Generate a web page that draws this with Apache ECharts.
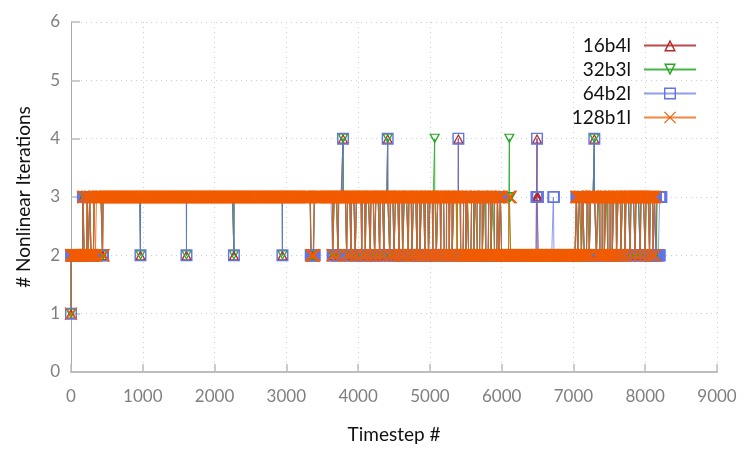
<!DOCTYPE html>
<html>
<head>
<meta charset="utf-8">
<script src="https://cdn.jsdelivr.net/npm/echarts@6/dist/echarts.min.js"></script>
<style>
html,body{margin:0;padding:0;background:#fff;}
#chart{width:747px;height:449px;}
</style>
</head>
<body>
<div id="chart"></div>
<script>
// ---- data ----
const seriesNames = ['16b4l', '32b3l', '64b2l', '128b1l'];
const xTicks = [0, 1000, 2000, 3000, 4000, 5000, 6000, 7000, 8000, 9000];
const yTicks = [0, 1, 2, 3, 4, 5, 6];
// baseline number of nonlinear iterations (value between the listed runs)
const baseLevel = 3;
// last timestep of each series
const lastStep = [8170, 8190, 8225, 8140];
// runs [firstTimestep, lastTimestep, iterations] where the series differs from baseLevel
const runs16b4l = [[0,0,1],[1,160,2],[185,225,2],[240,260,2],[280,320,2],[440,445,2],[968,968,2],[1609,1609,2],[2270,2270,2],[2946,2946,2],[3345,3390,2],
  [3645,3665,2],[3720,3730,2],[3790,3790,4],[3840,3850,2],[3900,3910,2],[3960,3975,2],[4050,4060,2],[4100,4110,2],[4170,4180,2],[4230,4245,2],
  [4300,4310,2],[4360,4365,2],[4412,4412,4],[4440,4450,2],[4500,4520,2],[4570,4580,2],[4620,4640,2],[4700,4705,2],[4750,4770,2],[4820,4830,2],
  [4860,4880,2],[4930,4940,2],[4980,5000,2],[5040,5045,2],[5090,5110,2],[5150,5160,2],[5200,5230,2],[5270,5280,2],[5310,5330,2],[5397,5397,4],
  [5430,5470,2],[5500,5520,2],[5540,5580,2],[5610,5630,2],[5660,5700,2],[5730,5750,2],[5780,5820,2],[5850,5870,2],[5900,5940,2],[5960,5980,2],
  [6000,6484,2],[6493,6493,4],[6510,7040,2],[7060,7080,2],[7110,7130,2],[7150,7190,2],[7220,7240,2],[7291,7291,4],[7320,7340,2],[7370,7400,2],
  [7430,7450,2],[7480,7510,2],[7540,7560,2],[7600,7620,2],[7660,7680,2],[7720,7730,2],[7790,7800,2],[7860,7870,2],[7930,7940,2],[8000,8010,2],
  [8060,8070,2],[8110,8130,2],[8150,8165,2]];
const runs32b3l = [[0,0,1],[1,165,2],[185,225,2],[240,260,2],[280,320,2],[440,445,2],[968,968,2],[1609,1609,2],[2270,2270,2],[2946,2946,2],[3345,3390,2],
  [3645,3670,2],[3720,3725,2],[3790,3790,4],[3840,3855,2],[3900,3905,2],[3960,3980,2],[4050,4055,2],[4100,4115,2],[4170,4175,2],[4230,4250,2],
  [4300,4305,2],[4360,4370,2],[4412,4412,4],[4440,4455,2],[4500,4520,2],[4570,4575,2],[4620,4645,2],[4700,4710,2],[4750,4770,2],[4820,4825,2],
  [4860,4885,2],[4930,4935,2],[4980,5005,2],[5040,5045,2],[5067,5067,4],[5090,5110,2],[5150,5155,2],[5200,5235,2],[5270,5275,2],[5310,5335,2],
  [5380,5385,2],[5430,5470,2],[5500,5525,2],[5540,5580,2],[5610,5635,2],[5660,5700,2],[5730,5755,2],[5780,5820,2],[5850,5875,2],[5900,5940,2],
  [5960,5985,2],[6000,6100,2],[6107,6107,4],[6126,7040,2],[7060,7085,2],[7110,7130,2],[7150,7195,2],[7220,7240,2],[7291,7291,4],[7320,7345,2],
  [7370,7400,2],[7430,7455,2],[7480,7510,2],[7540,7565,2],[7600,7620,2],[7660,7685,2],[7720,7735,2],[7790,7805,2],[7860,7875,2],[7930,7945,2],
  [8000,8015,2],[8060,8075,2],[8110,8130,2],[8160,8190,2]];
const runs64b2l = [[0,0,1],[1,165,2],[185,225,2],[240,260,2],[280,320,2],[435,445,2],[968,968,2],[1609,1609,2],[2270,2270,2],[2946,2946,2],[3340,3395,2],
  [3645,3665,2],[3720,3730,2],[3790,3790,4],[3840,3850,2],[3900,3910,2],[3960,3975,2],[4050,4060,2],[4100,4110,2],[4170,4180,2],[4230,4245,2],
  [4300,4310,2],[4360,4365,2],[4412,4412,4],[4440,4450,2],[4500,4520,2],[4570,4580,2],[4620,4640,2],[4700,4705,2],[4750,4770,2],[4820,4830,2],
  [4860,4880,2],[4930,4940,2],[4980,5000,2],[5040,5045,2],[5090,5110,2],[5150,5160,2],[5200,5230,2],[5270,5280,2],[5310,5330,2],[5397,5397,4],
  [5430,5470,2],[5500,5520,2],[5540,5580,2],[5610,5630,2],[5660,5700,2],[5730,5750,2],[5780,5820,2],[5850,5870,2],[5900,5940,2],[5960,5980,2],
  [6000,6484,2],[6493,6493,4],[6505,6719,2],[6729,7040,2],[7060,7080,2],[7110,7130,2],[7150,7190,2],[7220,7240,2],[7291,7291,4],[7320,7340,2],
  [7370,7400,2],[7430,7450,2],[7480,7510,2],[7540,7560,2],[7600,7620,2],[7660,7680,2],[7720,7730,2],[7790,7800,2],[7860,7870,2],[7930,7940,2],
  [8000,8010,2],[8060,8070,2],[8110,8130,2],[8150,8200,2]];
const runs128b1l = [[0,0,1],[1,170,2],[185,225,2],[240,260,2],[280,320,2],[340,355,2],[440,452,2],[3350,3385,2],
  [3645,3660,2],[3720,3725,2],[3840,3850,2],[3900,3905,2],[3960,3975,2],[4050,4055,2],[4100,4110,2],[4170,4175,2],[4230,4245,2],[4300,4305,2],
  [4360,4365,2],[4440,4450,2],[4500,4520,2],[4570,4575,2],[4620,4640,2],[4700,4705,2],[4750,4770,2],[4820,4825,2],[4860,4880,2],[4930,4935,2],
  [4980,5000,2],[5040,5045,2],[5090,5110,2],[5150,5155,2],[5200,5230,2],[5270,5275,2],[5310,5330,2],[5380,5385,2],[5430,5470,2],[5500,5520,2],
  [5540,5580,2],[5610,5630,2],[5660,5700,2],[5730,5750,2],[5780,5820,2],[5850,5870,2],[5900,5940,2],[5960,5980,2],[6000,6100,2],[6126,7040,2],
  [7060,7080,2],[7110,7130,2],[7150,7190,2],[7220,7240,2],[7320,7340,2],[7370,7400,2],[7430,7450,2],[7480,7510,2],[7540,7560,2],[7600,7620,2],
  [7660,7680,2],[7720,7725,2],[7790,7795,2],[7860,7865,2],[7930,7935,2],[8000,8005,2],[8060,8065,2],[8110,8130,2]];
const allRuns = [runs16b4l, runs32b3l, runs64b2l, runs128b1l];

// ---- build points from the runs (one point per MARK_STEP timesteps inside a run) ----
const MARK_STEP = 8;
function decodeRuns(runs, last) {
  const pts = [];
  const sorted = runs.slice().sort((a, b) => a[0] - b[0]);
  function emit(a, b, v) {
    if (b < a) return;
    pts.push([a, v]);
    for (let x = a + MARK_STEP; x < b; x += MARK_STEP) pts.push([x, v]);
    if (b > a) pts.push([b, v]);
  }
  let t = 0;
  for (const r of sorted) {
    const a = r[0], b = r[1], v = r[2];
    if (a > last) break;
    if (a > t) emit(t, a - 1, baseLevel);
    emit(a, Math.min(b, last), v);
    t = b + 1;
  }
  if (t <= last) emit(t, last, baseLevel);
  return pts;
}

// ---- outline marker shapes ----
const SYM_UP = 'path://M5,0 L10,10 L0,10 Z M5,2.68 L1.94,8.8 L8.06,8.8 Z';
const SYM_DOWN = 'path://M0,0 L10,0 L5,10 Z M1.94,1.2 L5,7.32 L8.06,1.2 Z';
const SYM_SQ = 'path://M0,0 L10,0 L10,10 L0,10 Z M1.2,1.2 L1.2,8.8 L8.8,8.8 L8.8,1.2 Z';
const SYM_X = 'path://M0,0.64 L0.64,0 L5,4.36 L9.36,0 L10,0.64 L5.64,5 L10,9.36 L9.36,10 L5,5.64 L0.64,10 L0,9.36 L4.36,5 Z';

const styles = [
  {color: '#b5282b', sym: SYM_UP, size: [11, 10], lineOp: 0.85},
  {color: '#27a827', sym: SYM_DOWN, size: [11, 10], lineOp: 0.85},
  {color: '#6375e4', sym: SYM_SQ, size: [12, 12], lineOp: 0.7},
  {color: '#f25c00', sym: SYM_X, size: [13, 13], lineOp: 0.75}
];

const FONT = 'Lato, "Open Sans", sans-serif';

const series = seriesNames.map((name, i) => ({
  name: name,
  type: 'line',
  data: decodeRuns(allRuns[i], lastStep[i]),
  symbol: styles[i].sym,
  symbolSize: styles[i].size,
  showSymbol: true,
  showAllSymbol: true,
  clip: false,
  animation: false,
  color: styles[i].color,
  itemStyle: {color: styles[i].color},
  lineStyle: {color: styles[i].color, width: 1, opacity: styles[i].lineOp},
  emphasis: {disabled: true}
}));

const legendTops = [36, 60, 84, 108];
const legends = seriesNames.map((name, i) => ({
  data: [name],
  right: 50,
  top: legendTops[i],
  padding: 0,
  align: 'right',
  orient: 'vertical',
  itemWidth: 52,
  itemHeight: 15,
  selectedMode: false,
  textStyle: {fontFamily: FONT, fontSize: 19, color: '#111', padding: [0, 8, 0, 0]}
}));

const chart = echarts.init(document.getElementById('chart'), null, {renderer: 'canvas'});
chart.setOption({
  animation: false,
  backgroundColor: '#fff',
  grid: {left: 71, right: 30, top: 22, bottom: 75, containLabel: false},
  legend: legends,
  xAxis: {
    type: 'value',
    min: xTicks[0], max: xTicks[xTicks.length - 1], interval: xTicks[1] - xTicks[0],
    name: 'Timestep #', nameLocation: 'middle', nameGap: 53,
    nameTextStyle: {fontFamily: FONT, fontSize: 19, color: '#111'},
    axisLine: {show: true, lineStyle: {color: '#bdbdbd', width: 2}},
    axisTick: {show: true, inside: true, length: 8, lineStyle: {color: '#bdbdbd', width: 1.5}},
    axisLabel: {fontFamily: FONT, fontSize: 17, color: '#7f7f7f', margin: 16, formatter: v => String(v)},
    splitLine: {show: true, lineStyle: {color: '#cfcfcf', type: [1, 4], width: 1}}
  },
  yAxis: {
    type: 'value',
    min: yTicks[0], max: yTicks[yTicks.length - 1], interval: yTicks[1] - yTicks[0],
    name: '# Nonlinear Iterations', nameLocation: 'middle', nameGap: 38,
    nameTextStyle: {fontFamily: FONT, fontSize: 19, color: '#111'},
    axisLine: {show: true, lineStyle: {color: '#a8a8a8', width: 1}},
    axisTick: {show: true, inside: true, length: 9, lineStyle: {color: '#bdbdbd', width: 1.5}},
    axisLabel: {fontFamily: FONT, fontSize: 17, color: '#7f7f7f', margin: 11, formatter: v => String(v)},
    splitLine: {show: true, lineStyle: {color: '#cfcfcf', type: [1, 4], width: 1}}
  },
  series: series
});
</script>
</body>
</html>
